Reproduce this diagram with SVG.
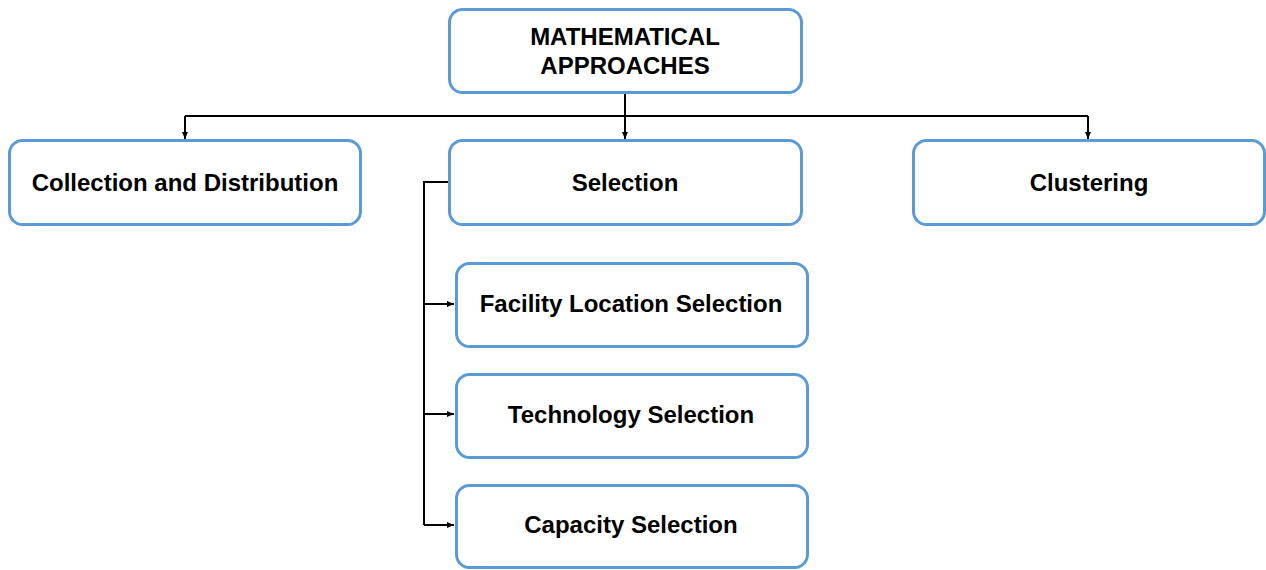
<svg xmlns="http://www.w3.org/2000/svg" width="1266" height="570" viewBox="0 0 1266 570">
<style>
.box{fill:#fff;stroke:#5B9BD5;stroke-width:3}
.t{font-family:"Liberation Sans",Arial,sans-serif;font-weight:bold;font-size:24px;fill:#000;text-anchor:middle}
.c{fill:none;stroke:#000;stroke-width:2}
</style>
<defs>
<marker id="ah" markerWidth="8" markerHeight="8" refX="7" refY="4" orient="auto" markerUnits="userSpaceOnUse">
<path d="M0,1 L7,4 L0,7 Z" fill="#000"/>
</marker>
</defs>
<rect width="1266" height="570" fill="#fff"/>
<g id="connectors">
<path class="c" d="M625,93 V116"/>
<path class="c" d="M185,116 H1088"/>
<path class="c" d="M185,116 V139" marker-end="url(#ah)"/>
<path class="c" d="M625,116 V139" marker-end="url(#ah)"/>
<path class="c" d="M1088,116 V139" marker-end="url(#ah)"/>
<path class="c" d="M449,182 H424 V525"/>
<path class="c" d="M424,304 H454" marker-end="url(#ah)"/>
<path class="c" d="M424,414 H454" marker-end="url(#ah)"/>
<path class="c" d="M424,525 H454" marker-end="url(#ah)"/>
</g>
<g id="n-math"><rect class="box" x="449.5" y="9.5" width="352" height="83" rx="13"/><text class="t" x="625" y="45">MATHEMATICAL</text><text class="t" x="625" y="74">APPROACHES</text></g>
<g id="n-collection"><rect class="box" x="9.5" y="140.5" width="351" height="84" rx="13"/><text class="t" x="185" y="191">Collection and Distribution</text></g>
<g id="n-selection"><rect class="box" x="449.5" y="140.5" width="352" height="84" rx="13"/><text class="t" x="625" y="191">Selection</text></g>
<g id="n-clustering"><rect class="box" x="913.5" y="140.5" width="351" height="84" rx="13"/><text class="t" x="1089" y="191">Clustering</text></g>
<g id="n-facility"><rect class="box" x="456.5" y="263.5" width="351" height="83" rx="13"/><text class="t" x="631" y="312">Facility Location Selection</text></g>
<g id="n-technology"><rect class="box" x="456.5" y="374.5" width="351" height="83" rx="13"/><text class="t" x="631" y="423">Technology Selection</text></g>
<g id="n-capacity"><rect class="box" x="456.5" y="485.5" width="351" height="82" rx="13"/><text class="t" x="631" y="533">Capacity Selection</text></g>
</svg>
